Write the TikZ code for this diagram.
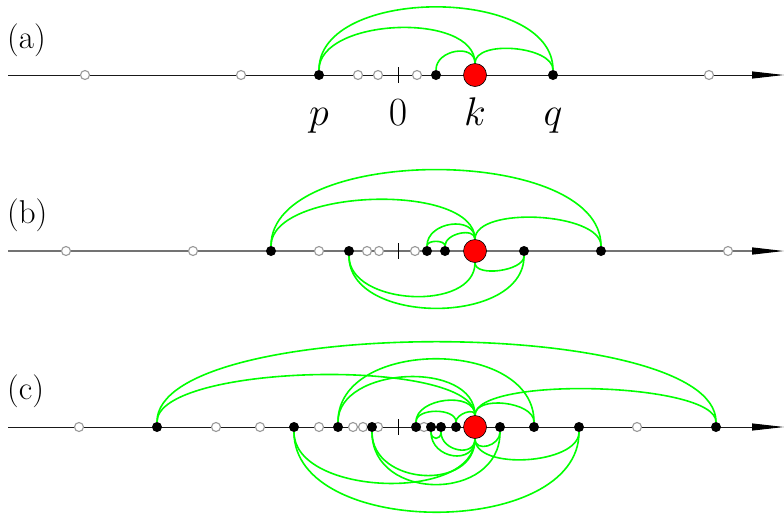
\RequirePackage{fix-cm}
\documentclass[tikz,border=0pt]{standalone}
\usepackage{tikz}
\usetikzlibrary{
  arrows.meta,
  backgrounds
}
\tikzset{
  opendot/.style={
    circle,
    draw=black!40,
    fill=white,
    line width=1.1pt,
    minimum size=9pt,
    inner sep=0pt
  },
  fulldot/.style={circle,fill=black,minimum size=10pt,inner sep=0pt},
  kdot/.style={circle,draw=black,fill=red,line width=0.6pt,minimum size=23pt,inner sep=0pt},
  axisline/.style={line width=0.9pt,draw=black!90,-{Triangle[length=32pt,width=7pt,black]}},
  grayaxis/.style={axisline,draw=black!55,line width=1.3pt},
  tickmark/.style={line width=0.9pt,draw=black},
  link/.style={line width=1.6pt,draw=green},
  linkup/.style={link,out=90,in=90},
  linkdown/.style={link,out=-90,in=-90},
  panellabel/.style={font=\fontsize{33}{38}\selectfont,inner sep=0pt,anchor=west},
  ptlabel/.style={font=\fontsize{40}{46}\selectfont,inner sep=0pt,anchor=base}
}

\begin{document}
\begin{tikzpicture}[x=1pt,y=-1pt]
  \useasboundingbox (0,0) rectangle (784,515);

  \node[panellabel] (lab-a) at (7,40) {(a)};
  \coordinate (a-start) at (8,75);
  \coordinate (a-end) at (784,75);
  \coordinate (a-zero) at (398,75);
  \node[opendot] (a-o1) at (85,75) {};
  \node[opendot] (a-o2) at (241,75) {};
  \node[opendot] (a-o3) at (358,75) {};
  \node[opendot] (a-o4) at (378,75) {};
  \node[opendot] (a-o5) at (417,75) {};
  \node[opendot] (a-o6) at (709,75) {};
  \node[fulldot] (a-p) at (319,75) {};
  \node[fulldot] (a-m) at (436,75) {};
  \node[fulldot] (a-q) at (553,75) {};
  \node[kdot] (a-k) at (475,75) {};
  \node[ptlabel] (lab-p) at (319,125) {$p$};
  \node[ptlabel] (lab-0) at (398,125) {$0$};
  \node[ptlabel] (lab-k) at (475,125) {$k$};
  \node[ptlabel] (lab-q) at (553,125) {$q$};

  \node[panellabel] (lab-b) at (7,215) {(b)};
  \coordinate (b-start) at (8,251);
  \coordinate (b-end) at (784,251);
  \coordinate (b-zero) at (398,251);
  \node[opendot] (b-o1) at (66,251) {};
  \node[opendot] (b-o2) at (193,251) {};
  \node[opendot] (b-o3) at (319,251) {};
  \node[opendot] (b-o4) at (367,251) {};
  \node[opendot] (b-o5) at (379,251) {};
  \node[opendot] (b-o6) at (415,251) {};
  \node[opendot] (b-o7) at (728,251) {};
  \node[fulldot] (b-f1) at (271,251) {};
  \node[fulldot] (b-f2) at (349,251) {};
  \node[fulldot] (b-f3) at (427,251) {};
  \node[fulldot] (b-f4) at (445,251) {};
  \node[fulldot] (b-f5) at (524,251) {};
  \node[fulldot] (b-f6) at (601,251) {};
  \node[kdot] (b-k) at (475,251) {};

  \node[panellabel] (lab-c) at (7,391) {(c)};
  \coordinate (c-start) at (8,427);
  \coordinate (c-end) at (784,427);
  \coordinate (c-zero) at (398,427);
  \node[opendot] (c-o1) at (79,427) {};
  \node[opendot] (c-o2) at (216,427) {};
  \node[opendot] (c-o3) at (260,427) {};
  \node[opendot] (c-o4) at (319,427) {};
  \node[opendot] (c-o5) at (353,427) {};
  \node[opendot] (c-o6) at (363,427) {};
  \node[opendot] (c-o7) at (378,427) {};
  \node[opendot] (c-o8) at (424,427) {};
  \node[opendot] (c-o9) at (637,427) {};
  \node[fulldot] (c-f1) at (157,427) {};
  \node[fulldot] (c-f2) at (294,427) {};
  \node[fulldot] (c-f3) at (338,427) {};
  \node[fulldot] (c-f4) at (372,427) {};
  \node[fulldot] (c-f5) at (416,427) {};
  \node[fulldot] (c-f6) at (431,427) {};
  \node[fulldot] (c-f7) at (441,427) {};
  \node[fulldot] (c-f8) at (456,427) {};
  \node[fulldot] (c-f9) at (500,427) {};
  \node[fulldot] (c-f10) at (534,427) {};
  \node[fulldot] (c-f11) at (579,427) {};
  \node[fulldot] (c-f12) at (716,427) {};
  \node[kdot] (c-k) at (475,427) {};

  \begin{scope}[on background layer]
    \draw[axisline] (a-start) -- (a-end);
    \draw[tickmark] ([yshift=8pt]a-zero) -- ([yshift=-8pt]a-zero);
    \draw[linkup,looseness=0.92] (a-p.north) to (a-q.north);
    \draw[linkup,looseness=0.85] (a-p.north) to (a-k.north);
    \draw[linkup,looseness=1.3] (a-m.north) to (a-k.north);
    \draw[linkup,looseness=0.78] (a-k.north) to (a-q.north);

    \draw[grayaxis] (b-start) -- (b-end);
    \draw[tickmark] ([yshift=8pt]b-zero) -- ([yshift=-8pt]b-zero);
    \draw[linkup,looseness=0.79] (b-f1.north) to (b-f6.north);
    \draw[linkup,looseness=0.72] (b-f1.north) to (b-k.north);
    \draw[linkup,looseness=1.28] (b-f3.north) to (b-k.north);
    \draw[linkup,looseness=0.85] (b-f3.north) to (b-f4.north);
    \draw[linkup,looseness=1.02] (b-f4.north) to (b-k.north);
    \draw[linkup,looseness=0.68] (b-k.north) to (b-f6.north);
    \draw[linkdown,looseness=1.0] (b-f2.south) to (b-k.south);
    \draw[linkdown,looseness=1.02] (b-f2.south) to (b-f5.south);
    \draw[linkdown,looseness=0.76] (b-k.south) to (b-f5.south);

    \draw[axisline] (c-start) -- (c-end);
    \draw[tickmark] ([yshift=8pt]c-zero) -- ([yshift=-8pt]c-zero);
    \draw[linkup,looseness=0.49] (c-f1.north) to (c-f12.north);
    \draw[linkup,looseness=0.47] (c-f1.north) to (c-k.north);
    \draw[linkup,looseness=1.1] (c-f3.north) to (c-f10.north);
    \draw[linkup,looseness=1.04] (c-f3.north) to (c-k.north);
    \draw[linkup,looseness=0.42] (c-k.north) to (c-f12.north);
    \draw[linkup,looseness=0.87] (c-k.north) to (c-f10.north);
    \draw[linkup,looseness=1.04] (c-f5.north) to (c-k.north);
    \draw[linkup,looseness=0.9] (c-f5.north) to (c-f8.north);
    \draw[linkup,looseness=1.0] (c-f8.north) to (c-k.north);
    \draw[linkdown,looseness=0.9] (c-f2.south) to (c-k.south);
    \draw[linkdown,looseness=0.96] (c-f2.south) to (c-f11.south);
    \draw[linkdown,looseness=1.32] (c-f4.south) to (c-k.south);
    \draw[linkdown,looseness=1.4] (c-f4.south) to (c-f9.south);
    \draw[linkdown,looseness=0.79] (c-k.south) to (c-f11.south);
    \draw[linkdown,looseness=1.37] (c-k.south) to (c-f9.south);
    \draw[linkdown,looseness=1.55] (c-f6.south) to (c-k.south);
    \draw[linkdown,looseness=1.4] (c-f7.south) to (c-k.south);
    \draw[linkdown,looseness=2.1] (c-f6.south) to (c-f7.south);
  \end{scope}
\end{tikzpicture}
\end{document}
